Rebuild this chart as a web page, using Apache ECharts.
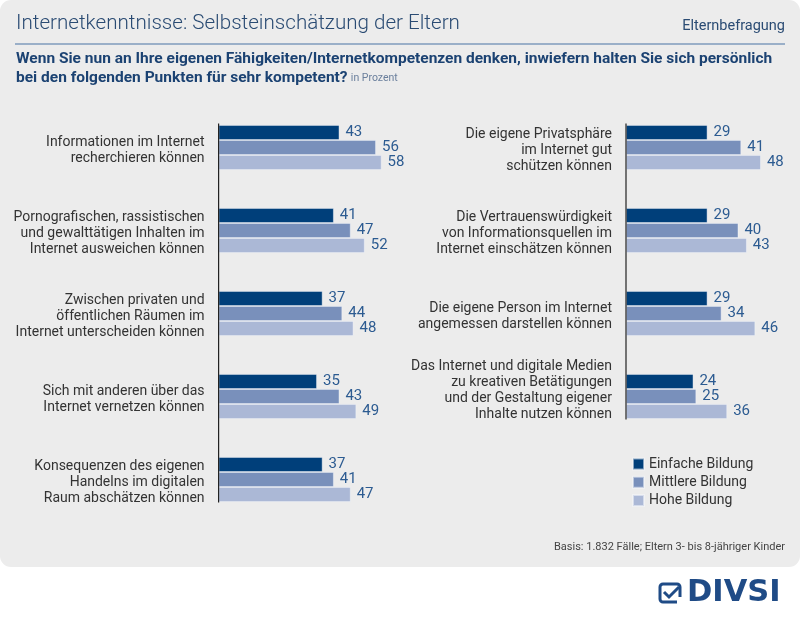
<!DOCTYPE html>
<html>
<head>
<meta charset="utf-8">
<script src="https://cdn.jsdelivr.net/npm/echarts@6/dist/echarts.min.js"></script>
<style>
  html, body { margin: 0; padding: 0; background: #ffffff; }
  #wrap { position: relative; width: 800px; height: 618px; }
  #panel { position: absolute; left: 0; top: 0; width: 800px; height: 567px; background: #ececec; border-radius: 11px; }
  #chart { position: absolute; left: 0; top: 0; width: 800px; height: 618px; }
</style>
</head>
<body>
<div id="wrap"><div id="panel"></div><div id="chart"></div></div>
<script>
const seriesNames = ['Einfache Bildung', 'Mittlere Bildung', 'Hohe Bildung'];
const seriesColors = ['#003f7a', '#7990bb', '#abb8d6'];

const categoriesLeft = [
  'Informationen im Internet\nrecherchieren können',
  'Pornografischen, rassistischen\nund gewalttätigen Inhalten im\nInternet ausweichen können',
  'Zwischen privaten und\nöffentlichen Räumen im\nInternet unterscheiden können',
  'Sich mit anderen über das\nInternet vernetzen können',
  'Konsequenzen des eigenen\nHandelns im digitalen\nRaum abschätzen können'
];
const einfacheLeft = [43, 41, 37, 35, 37];
const mittlereLeft = [56, 47, 44, 43, 41];
const hoheLeft = [58, 52, 48, 49, 47];

const categoriesRight = [
  'Die eigene Privatsphäre\nim Internet gut\nschützen können',
  'Die Vertrauenswürdigkeit\nvon Informationsquellen im\nInternet einschätzen können',
  'Die eigene Person im Internet\nangemessen darstellen können',
  'Das Internet und digitale Medien\nzu kreativen Betätigungen\nund der Gestaltung eigener\nInhalte nutzen können'
];
const einfacheRight = [29, 29, 29, 24];
const mittlereRight = [41, 40, 34, 25];
const hoheRight = [48, 43, 46, 36];

const titleText = 'Internetkenntnisse: Selbsteinschätzung der Eltern';
const topRightText = 'Elternbefragung';
const subtitleLine1 = 'Wenn Sie nun an Ihre eigenen Fähigkeiten/Internetkompetenzen denken, inwiefern halten Sie sich persönlich';
const subtitleLine2 = 'bei den folgenden Punkten für sehr kompetent?';
const unitText = 'in Prozent';
const footerText = 'Basis: 1.832 Fälle; Eltern 3- bis 8-jähriger Kinder';
const logoText = 'DIVSI';

const FONT = 'Roboto';
const chart = echarts.init(document.getElementById('chart'), null, { renderer: 'canvas' });

// vertical nudge of category labels via invisible spacer lines
function labelFormatter(value) {
  const lines = value.split('\n');
  const body = lines.map(function (l) { return '{t|' + l + '}'; }).join('\n');
  if (lines.length >= 4) return body + '\n{sb| }';
  return '{st| }\n' + body;
}
const labelRich = {
  t: { fontSize: 14, lineHeight: 16, color: '#333333', fontFamily: FONT, align: 'right' },
  st: { fontSize: 4, lineHeight: 6 },
  sb: { fontSize: 4, lineHeight: 12 }
};

function barSeries(name, idx, data, axisIndex) {
  return {
    type: 'bar', name: name, xAxisIndex: axisIndex, yAxisIndex: axisIndex,
    data: data, barWidth: 15, barGap: '0%',
    itemStyle: { color: seriesColors[idx], borderColor: 'rgba(245,247,252,0.55)', borderWidth: 0.8 },
    label: { show: true, position: 'right', distance: 6, color: '#2c5b91', fontSize: 15, fontFamily: FONT },
    silent: true, animation: false
  };
}

const gridLeftX = 218.6, gridRightX = 626, gridW = 168.6, gridTop = 106;
const band = 83;

const option = {
  backgroundColor: 'transparent',
  animation: false,
  textStyle: { fontFamily: FONT },
  legend: {
    data: seriesNames, orient: 'vertical', left: 627, top: 452,
    icon: 'rect', itemWidth: 11, itemHeight: 11, itemGap: 4.3,
    textStyle: { fontSize: 14, color: '#333333', fontFamily: FONT },
    selectedMode: false
  },
  grid: [
    { left: gridLeftX, top: gridTop, width: gridW, height: band * categoriesLeft.length },
    { left: gridRightX, top: gridTop, width: gridW, height: band * categoriesRight.length }
  ],
  xAxis: [
    { type: 'value', gridIndex: 0, min: 0, max: 60, show: false },
    { type: 'value', gridIndex: 1, min: 0, max: 60, show: false }
  ],
  yAxis: [
    { type: 'category', gridIndex: 0, inverse: true, data: categoriesLeft,
      axisLine: { show: false }, axisTick: { show: false },
      axisLabel: { margin: 14, fontSize: 14, lineHeight: 16, color: '#333333', align: 'right', fontFamily: FONT,
                   formatter: labelFormatter, rich: labelRich } },
    { type: 'category', gridIndex: 1, inverse: true, data: categoriesRight,
      axisLine: { show: false }, axisTick: { show: false },
      axisLabel: { margin: 14, fontSize: 14, lineHeight: 16, color: '#333333', align: 'right', fontFamily: FONT,
                   formatter: labelFormatter, rich: labelRich } }
  ],
  series: [
    barSeries(seriesNames[0], 0, einfacheLeft, 0),
    barSeries(seriesNames[1], 1, mittlereLeft, 0),
    barSeries(seriesNames[2], 2, hoheLeft, 0),
    barSeries(seriesNames[0], 0, einfacheRight, 1),
    barSeries(seriesNames[1], 1, mittlereRight, 1),
    barSeries(seriesNames[2], 2, hoheRight, 1)
  ]
};
chart.setOption(option);

// axis lines spanning from first bar group top to last bar group bottom, computed from the scales
function axisLineFor(idx, n) {
  const p0 = chart.convertToPixel({ gridIndex: idx }, [0, 0]);
  const p1 = chart.convertToPixel({ gridIndex: idx }, [0, n - 1]);
  return { type: 'line', shape: { x1: p0[0], y1: p0[1] - 24, x2: p1[0], y2: p1[1] + 23 },
           style: { stroke: '#222222', lineWidth: 1.2 }, z: 10, silent: true };
}

chart.setOption({
  graphic: [
    { type: 'text', left: 16, top: 13, style: { text: titleText, fontSize: 20.6, fontWeight: 300, fill: '#2a4b73', fontFamily: FONT } },
    { type: 'text', right: 15, top: 18.5, style: { text: topRightText, fontSize: 14.5, fill: '#2a4b73', fontFamily: FONT } },
    { type: 'line', shape: { x1: 15, y1: 44, x2: 785, y2: 44 }, style: { stroke: '#7f9bbd', lineWidth: 1.6 } },
    { type: 'text', left: 16, top: 51, style: {
        text: '{b|' + subtitleLine1 + '}\n{b|' + subtitleLine2 + '} {s|' + unitText + '}',
        rich: {
          b: { fontSize: 15.5, fontWeight: 'bold', fill: '#1b4272', lineHeight: 19, fontFamily: FONT },
          s: { fontSize: 10.5, fill: '#6a7f9c', lineHeight: 19, fontFamily: FONT }
        } } },
    { type: 'text', right: 15, top: 542, style: { text: footerText, fontSize: 11, fill: '#444444', fontFamily: FONT } },
    axisLineFor(0, categoriesLeft.length),
    axisLineFor(1, categoriesRight.length),
    // logo icon
    { type: 'rect', shape: { x: 660, y: 584, width: 20, height: 18, r: 3 }, style: { fill: 'none', stroke: '#1f4b86', lineWidth: 3 } },
    { type: 'polyline', shape: { points: [[664, 592], [669, 597], [679, 587]] }, style: { fill: 'none', stroke: '#1f4b86', lineWidth: 3 } },
    { type: 'rect', shape: { x: 677, y: 597, width: 6, height: 7 }, style: { fill: '#ffffff' } },
    { type: 'text', left: 687, top: 578, style: { text: logoText, fontSize: 30.5, fontWeight: 'bold', fill: '#1f4b86', fontFamily: 'DejaVu Sans' } }
  ]
});
</script>
</body>
</html>
